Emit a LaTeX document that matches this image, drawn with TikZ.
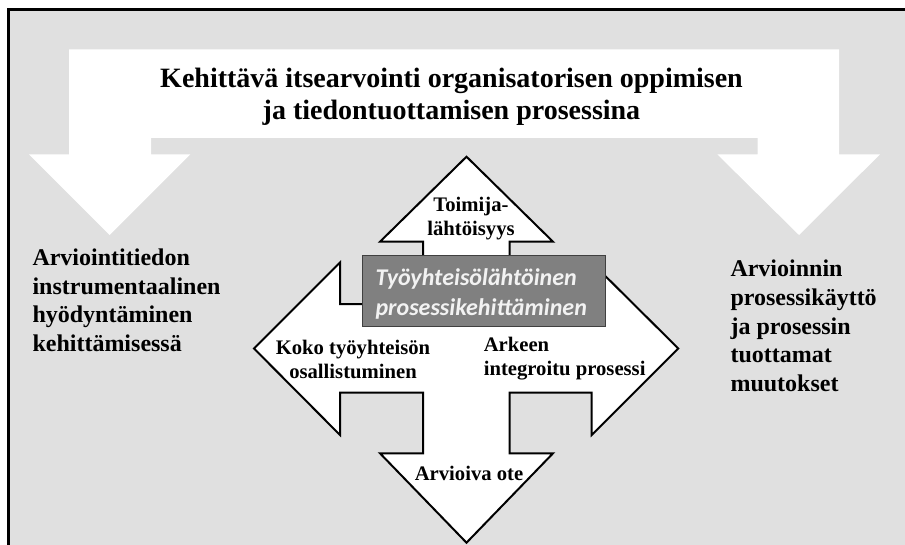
\documentclass[tikz,border=0pt]{standalone}
\usepackage{fontspec}
\setmainfont{Liberation Serif}
\newfontfamily\boxfont{Carlito}

\tikzset{
	lbl/.style={font=\bfseries\fontsize{15.5}{17.5}\selectfont, inner sep=0pt},
	side text/.style={font=\bfseries\fontsize{18}{21.6}\selectfont, inner sep=0pt, align=left, anchor=base west},
	hdr/.style={font=\bfseries\fontsize{21}{24}\selectfont, inner sep=0pt, align=center, anchor=base}}
\tikzset{every picture/.style={line width=0.75pt}}

\begin{document}
\begin{tikzpicture}[x=0.75pt,y=0.75pt,yscale=-1,xscale=1]
	\useasboundingbox (0,0) rectangle (905,545);
	\clip (0,0) rectangle (905,545);

	%Shape: Rectangle [frame]
	\draw  [line width=2.25pt][fill={rgb, 255:red, 224; green, 224; blue, 224 }  ,fill opacity=1 ] (8,9.3) rectangle (930,570) ;
	%Double Down Arrow [white band]
	\draw  [draw opacity=0][fill=white  ,fill opacity=1 ] (69,49.3) -- (839,49.3) -- (839,154.3) -- (880,154.3) -- (799,235) -- (717.3,154.3) -- (757.6,154.3) -- (757.6,138) -- (151,138) -- (151,154.3) -- (190.4,154.3) -- (109.7,235) -- (29,154.3) -- (69,154.3) -- cycle ;
	%Quad Arrow [cross]
	\draw  [line width=1.5pt][fill=white  ,fill opacity=1 ] (466.5,156.7) -- (553,241.7) -- (509.5,241.7) -- (509.5,304) -- (591.7,304) -- (591.7,262.5) -- (678.3,348.5) -- (591.7,435) -- (591.7,392.5) -- (509.5,392.5) -- (509.5,453.3) -- (553,453.3) -- (466.5,542.7) -- (380,453.3) -- (423,453.3) -- (423,392.5) -- (340,392.5) -- (340,435) -- (254,348.5) -- (340,262.5) -- (340,304) -- (423,304) -- (423,241.7) -- (380,241.7) -- cycle ;
	%Shape: Rectangle [core box]
	\draw  [color={rgb, 255:red, 64; green, 64; blue, 64 }  ,draw opacity=1 ][fill={rgb, 255:red, 128; green, 128; blue, 128 }  ,fill opacity=1 ] (362.7,255) rectangle (605.7,326.7) ;

	% Text Node
	\draw (375,315) node [anchor=base west, inner sep=0pt, align=left, text={rgb, 255:red, 242; green, 242; blue, 242 }, font=\boxfont\bfseries\itshape\fontsize{18}{22.5}\selectfont] (core) {Työyhteisölähtöinen\\prosessikehittäminen};
	% Text Node
	\draw (451.5,120) node [hdr] (title) {Kehittävä itsearvointi organisatorisen oppimisen\\ja tiedontuottamisen prosessina};
	% Text Node
	\draw (32,351.7) node [side text] (instr) {Arviointitiedon\\instrumentaalinen\\hyödyntäminen\\kehittämisessä};
	% Text Node
	\draw (730,391.7) node [side text] (proc) {Arvioinnin\\prosessikäyttö\\ja prosessin\\tuottamat\\muutokset};
	% Text Node
	\draw (471,235) node [lbl, align=center, anchor=base] (toim) {Toimija-\\lähtöisyys};
	% Text Node
	\draw (353,378.3) node [lbl, align=center, anchor=base] (koko) {Koko työyhteisön\\osallistuminen};
	% Text Node
	\draw (483.3,375) node [lbl, align=left, anchor=base west] (ark) {Arkeen\\integroitu prosessi};
	% Text Node
	\draw (469,480) node [lbl, anchor=base] (arv) {Arvioiva ote};

\end{tikzpicture}
\end{document}
